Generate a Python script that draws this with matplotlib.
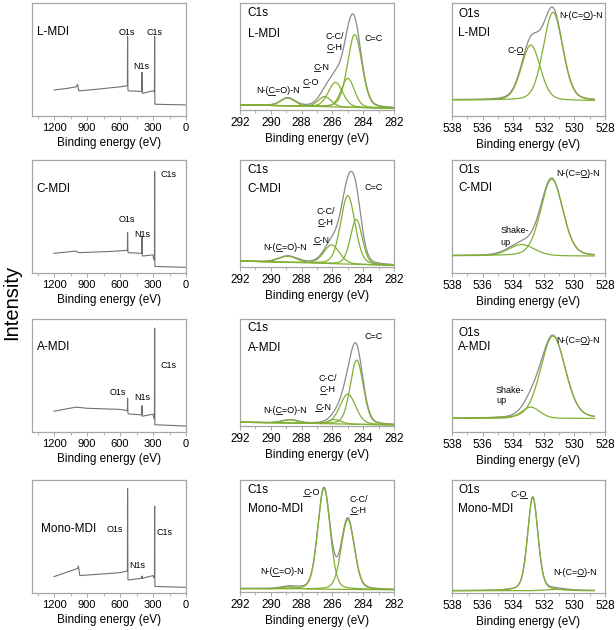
import numpy as np
import matplotlib
matplotlib.use("Agg")
import matplotlib.pyplot as plt
from matplotlib.ticker import MultipleLocator
from matplotlib.lines import Line2D

plt.rcParams['font.family'] = ['Liberation Sans', 'DejaVu Sans']

samples = ["L-MDI", "C-MDI", "A-MDI", "Mono-MDI"]

# ---------------- survey spectra (eV, relative intensity) ----------------
survey_E_L = [1200, 1090, 1000, 985, 975, 900, 600, 540, 533, 531, 528, 525, 410, 402, 400, 398, 395, 300, 292, 287, 285, 283, 282, 0]
survey_I_L = [0.23, 0.243, 0.258, 0.28, 0.223, 0.228, 0.258, 0.267, 0.27, 0.703, 0.23, 0.223, 0.217, 0.22, 0.386, 0.21, 0.2, 0.223, 0.214, 0.22, 0.703, 0.11, 0.104, 0.098]
survey_E_C = [1200, 1000, 975, 700, 540, 533, 531, 528, 525, 410, 402, 400, 398, 395, 300, 292, 287, 285, 283, 282, 0]
survey_I_C = [0.174, 0.194, 0.18, 0.19, 0.2, 0.2, 0.36, 0.19, 0.18, 0.174, 0.176, 0.32, 0.16, 0.15, 0.16, 0.116, 0.12, 0.9, 0.07, 0.058, 0.05]
survey_E_A = [1200, 1000, 900, 600, 540, 533, 531, 528, 525, 410, 402, 400, 398, 395, 300, 290, 287, 285, 283, 282, 0]
survey_I_A = [0.184, 0.22, 0.21, 0.2, 0.19, 0.19, 0.3, 0.17, 0.16, 0.152, 0.155, 0.234, 0.145, 0.14, 0.158, 0.117, 0.12, 0.92, 0.07, 0.064, 0.053]
survey_E_M = [1200, 985, 978, 965, 600, 540, 533, 531, 528, 525, 402, 400, 398, 300, 292, 287, 285, 283, 282, 0]
survey_I_M = [0.145, 0.217, 0.238, 0.154, 0.18, 0.194, 0.195, 0.927, 0.125, 0.116, 0.13, 0.15, 0.13, 0.154, 0.136, 0.14, 0.768, 0.065, 0.058, 0.05]

# survey peak labels: (text, eV, y)
survey_lbl_L = [("O1s", 540, 0.735), ("C1s", 287, 0.735), ("N1s", 405, 0.44)]
survey_lbl_C = [("O1s", 540, 0.47), ("N1s", 402, 0.34), ("C1s", 159, 0.875)]
survey_lbl_A = [("O1s", 616, 0.35), ("N1s", 402, 0.307), ("C1s", 159, 0.585)]
survey_lbl_M = [("O1s", 646, 0.565), ("C1s", 195, 0.536), ("N1s", 442, 0.24)]
survey_name_y = [0.74, 0.745, 0.75, 0.565]
survey_name_x = [0.03, 0.03, 0.03, 0.058]

# ---------------- C1s components: centre (eV), height, FWHM ----------------
c1s_cen_L = [288.9, 286.5, 285.8, 285.0, 284.55]
c1s_hgt_L = [0.073, 0.095, 0.23, 0.27, 0.68]
c1s_wid_L = [1.1, 1.0, 1.1, 1.0, 1.1]
c1s_base_L = [0.048, 0.016]
c1s_cen_C = [288.9, 286.05, 285.0, 284.45]
c1s_hgt_C = [0.058, 0.175, 0.64, 0.42]
c1s_wid_C = [1.4, 1.2, 1.1, 0.9]
c1s_base_C = [0.055, 0.015]
c1s_cen_A = [288.75, 285.85, 285.0, 284.42]
c1s_hgt_A = [0.03, 0.04, 0.28, 0.60]
c1s_wid_A = [1.2, 1.0, 1.2, 1.0]
c1s_base_A = [0.035, 0.01]
c1s_cen_M = [288.8, 286.55, 285.0]
c1s_hgt_M = [0.02, 0.90, 0.625]
c1s_wid_M = [1.2, 0.95, 1.0]
c1s_base_M = [0.03, 0.02]

# labels: (text, index of underlined letter or None, eV, y, alignment)
c1s_lbl_L = [("N-(C=O)-N", 3, 289.55, 0.18, 'center'), ("C-O", 0, 287.4, 0.254, 'center'),
             ("C-N", 0, 286.7, 0.40, 'center'), ("C-C/", None, 285.85, 0.69, 'center'),
             ("C-H", 0, 285.85, 0.58, 'center'), ("C=C", None, 283.34, 0.667, 'center')]
c1s_lbl_C = [("N-(C=O)-N", 3, 289.08, 0.186, 'center'), ("C-N", 0, 286.74, 0.247, 'center'),
             ("C-C/", None, 286.42, 0.52, 'center'), ("C-H", 0, 286.42, 0.415, 'center'),
             ("C=C", None, 283.34, 0.74, 'center')]
c1s_lbl_A = [("N-(C=O)-N", 3, 289.08, 0.144, 'center'), ("C-N", 0, 286.59, 0.175, 'center'),
             ("C-C/", None, 286.3, 0.447, 'center'), ("C-H", 0, 286.3, 0.337, 'center'),
             ("C=C", None, 283.34, 0.84, 'center')]
c1s_lbl_M = [("N-(C=O)-N", 3, 289.3, 0.18, 'center'), ("C-O", 0, 287.35, 0.887, 'center'),
             ("C-C/", None, 284.32, 0.83, 'center'), ("C-H", 0, 284.32, 0.73, 'center')]

# ---------------- O1s components ----------------
o1s_cen_L = [532.85, 531.4]
o1s_hgt_L = [0.49, 0.78]
o1s_wid_L = [1.45, 1.5]
o1s_base_L = [0.142, 0.135]
o1s_cen_C = [533.45, 531.48]
o1s_hgt_C = [0.10, 0.68]
o1s_wid_C = [2.0, 1.7]
o1s_base_C = [0.153, 0.15]
o1s_cen_A = [532.85, 531.4]
o1s_hgt_A = [0.10, 0.73]
o1s_wid_A = [1.4, 1.9]
o1s_base_A = [0.12, 0.12]
o1s_cen_M = [532.72, 531.2]
o1s_hgt_M = [0.83, 0.012]
o1s_wid_M = [0.8, 1.6]
o1s_base_M = [0.02, 0.02]

o1s_lbl_L = [("C-O", 2, 533.87, 0.58, 'center'), ("N-(C=O)-N", 5, 529.57, 0.89, 'center')]
o1s_lbl_C = [("N-(C=O)-N", 5, 529.74, 0.88, 'center'), ("Shake-", None, 534.85, 0.374, 'left'),
             ("up", None, 534.85, 0.274, 'left')]
o1s_lbl_A = [("N-(C=O)-N", 5, 529.74, 0.81, 'center'), ("Shake-", None, 535.13, 0.37, 'left'),
             ("up", None, 535.13, 0.28, 'left')]
o1s_lbl_M = [("C-O", 2, 533.65, 0.87, 'center'), ("N-(C=O)-N", 5, 529.96, 0.18, 'center')]

c1s_title_y = [(0.905, 0.714), (0.91, 0.726), (0.916, 0.728), (0.91, 0.74)]
o1s_title_y = [(0.90, 0.733), (0.91, 0.75), (0.875, 0.75), (0.911, 0.74)]

GREEN = "#82b034"
GRAY = "#8a8a8a"
SPINE = "#a6a6a6"


def pvoigt(x, c, h, w, m=0.2):
    u = (x - c) / w
    return h * (m / (1 + 4 * u ** 2) + (1 - m) * np.exp(-4 * np.log(2) * u ** 2))


W, H = 616, 630
fig = plt.figure(figsize=(W / 100, H / 100), dpi=100)

col_left = [32, 240, 452]
col_w = [154, 154, 153]
row_top = [3, 160, 319, 480]
row_h = 113

underlines = []


def make_ax(r, c, shrink=0):
    l = col_left[c]
    t = row_top[r]
    h = row_h - shrink
    return fig.add_axes([l / W, 1 - (t + h) / H, col_w[c] / W, h / H])


def style(ax, xlim, major, minor, fs):
    ax.set_xlim(*xlim)
    ax.set_ylim(0, 1)
    ax.set_yticks([])
    ax.xaxis.set_major_locator(MultipleLocator(major))
    ax.xaxis.set_minor_locator(MultipleLocator(minor))
    ax.tick_params(axis='x', which='major', direction='out', length=3, width=0.7,
                   color=SPINE, pad=2, labelsize=fs)
    ax.tick_params(axis='x', which='minor', direction='out', length=2, width=0.6, color=SPINE)
    for s in ax.spines.values():
        s.set_color(SPINE)
        s.set_linewidth(0.9)
    ax.set_xlabel("Binding energy (eV)", fontsize=8.5, labelpad=3)


def label(ax, s, idx, x, y, ha):
    t = ax.text(x, y, s, fontsize=6.5, ha=ha, va='center')
    if idx is not None:
        underlines.append((t, s, idx))


survey_E = [survey_E_L, survey_E_C, survey_E_A, survey_E_M]
survey_I = [survey_I_L, survey_I_C, survey_I_A, survey_I_M]
survey_lbl = [survey_lbl_L, survey_lbl_C, survey_lbl_A, survey_lbl_M]
c1s_sets = [(c1s_cen_L, c1s_hgt_L, c1s_wid_L, c1s_base_L, c1s_lbl_L),
            (c1s_cen_C, c1s_hgt_C, c1s_wid_C, c1s_base_C, c1s_lbl_C),
            (c1s_cen_A, c1s_hgt_A, c1s_wid_A, c1s_base_A, c1s_lbl_A),
            (c1s_cen_M, c1s_hgt_M, c1s_wid_M, c1s_base_M, c1s_lbl_M)]
o1s_sets = [(o1s_cen_L, o1s_hgt_L, o1s_wid_L, o1s_base_L, o1s_lbl_L),
            (o1s_cen_C, o1s_hgt_C, o1s_wid_C, o1s_base_C, o1s_lbl_C),
            (o1s_cen_A, o1s_hgt_A, o1s_wid_A, o1s_base_A, o1s_lbl_A),
            (o1s_cen_M, o1s_hgt_M, o1s_wid_M, o1s_base_M, o1s_lbl_M)]


def fit_panel(ax, xs, cen, hgt, wid, base, m):
    bg = base[0] + (base[1] - base[0]) * (xs[0] - xs) / (xs[0] - xs[-1])
    comps = [pvoigt(xs, c, h, w, m) for c, h, w in zip(cen, hgt, wid)]
    env = bg + np.sum(comps, axis=0)
    ax.plot(xs, env, color=GRAY, lw=0.9, zorder=2)
    for comp in comps:
        ax.plot(xs, bg + comp, color=GREEN, lw=0.9, zorder=3)


for r in range(4):
    # survey
    ax = make_ax(r, 0)
    ax.plot(survey_E[r], survey_I[r], color="#707070", lw=0.8)
    style(ax, (1400, 0), 300, 150, 8)
    ax.text(survey_name_x[r], survey_name_y[r], samples[r], transform=ax.transAxes,
            fontsize=8.5, ha='left', va='center')
    for t, x, y in survey_lbl[r]:
        ax.text(x, y, t, fontsize=6.5, ha='center', va='center')

    # C1s
    shrink = 6 if r < 3 else 1
    ax = make_ax(r, 1, shrink)
    cen, hgt, wid, base, lbls = c1s_sets[r]
    xs = np.linspace(292, 282, 600)
    fit_panel(ax, xs, cen, hgt, wid, base, 0.2)
    style(ax, (292, 282), 2, 1, 8.5)
    ax.text(0.05, c1s_title_y[r][0], "C1s", transform=ax.transAxes, fontsize=8.5, ha='left', va='center')
    ax.text(0.05, c1s_title_y[r][1], samples[r], transform=ax.transAxes, fontsize=8.5, ha='left', va='center')
    for s, idx, x, y, ha in lbls:
        label(ax, s, idx, x, y, ha)

    # O1s
    ax = make_ax(r, 2)
    cen, hgt, wid, base, lbls = o1s_sets[r]
    xs = np.linspace(538, 528.7, 600)
    fit_panel(ax, xs, cen, hgt, wid, base, 0.3 if r == 3 else 0.2)
    style(ax, (538, 528), 2, 1, 8.5)
    ax.text(0.04, o1s_title_y[r][0], "O1s", transform=ax.transAxes, fontsize=8.5, ha='left', va='center')
    ax.text(0.04, o1s_title_y[r][1], samples[r], transform=ax.transAxes, fontsize=8.5, ha='left', va='center')
    for s, idx, x, y, ha in lbls:
        label(ax, s, idx, x, y, ha)

fig.text(12 / W, 1 - 302 / H, "Intensity", rotation=90, fontsize=14.5, ha='center', va='center')

# draw underlines beneath the marked letters
fig.canvas.draw()
renderer = fig.canvas.get_renderer()
inv = fig.transFigure.inverted()
for t, s, idx in underlines:
    prop = t.get_fontproperties()
    bb = t.get_window_extent(renderer)
    w_full = renderer.get_text_width_height_descent(s, prop, ismath=False)[0]
    w_pre = renderer.get_text_width_height_descent(s[:idx], prop, ismath=False)[0] if idx > 0 else 0.0
    w_ch = renderer.get_text_width_height_descent(s[idx], prop, ismath=False)[0]
    d_lp = renderer.get_text_width_height_descent("lp", prop, ismath=False)[2]
    x0 = bb.x0 + (bb.width - w_full) / 2 + w_pre
    x1 = x0 + w_ch
    yb = bb.y0 + d_lp - 1.3
    (fx0, fy), (fx1, _) = inv.transform([(x0, yb), (x1, yb)])
    fig.add_artist(Line2D([fx0, fx1], [fy, fy], transform=fig.transFigure, color='black', lw=0.6))

fig.savefig("out.png", dpi=100)
